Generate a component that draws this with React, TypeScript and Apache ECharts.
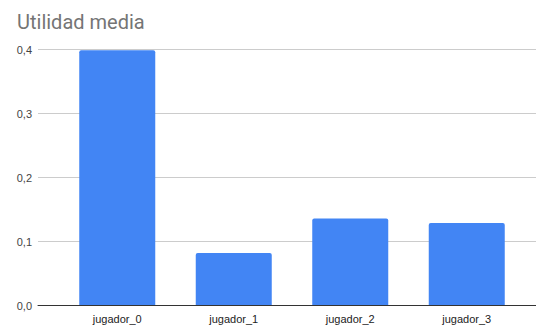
import React, { useEffect, useRef } from "react";
import * as echarts from "echarts";

const categories = ["jugador_0", "jugador_1", "jugador_2", "jugador_3"];
const values = [0.399, 0.082, 0.136, 0.129];
const yTicks = [0, 0.1, 0.2, 0.3, 0.4];
const titleText = "Utilidad media";

export default function App() {
  const ref = useRef<HTMLDivElement>(null);
  useEffect(() => {
    const chart = echarts.init(ref.current!, null, { renderer: "svg" });
    const yMax = yTicks[yTicks.length - 1];
    chart.setOption({
      animation: false,
      title: {
        text: titleText,
        left: 12,
        top: 7,
        textStyle: { fontFamily: "Roboto", fontSize: 20, fontWeight: "normal", color: "#757575" },
      },
      grid: [
        { left: 38, right: 0, top: 49.7, bottom: 21.5 },
        { left: 59, right: 11, top: 49.7, bottom: 21.5 },
      ],
      xAxis: [
        {
          gridIndex: 0,
          type: "value",
          min: 0,
          max: 1,
          axisLine: { show: true, onZero: false, lineStyle: { color: "#333333", width: 1 } },
          axisTick: { show: false },
          axisLabel: { show: false },
          splitLine: { show: false },
          z: 5,
        },
        {
          gridIndex: 1,
          type: "category",
          data: categories,
          axisLine: { show: false },
          axisTick: { show: false },
          axisLabel: { fontFamily: "Liberation Sans, Arial", fontSize: 11, color: "#222222", margin: 8 },
        },
      ],
      yAxis: [
        {
          gridIndex: 0,
          type: "value",
          min: 0,
          max: yMax,
          interval: 0.1,
          axisLine: { show: false },
          axisTick: { show: false },
          axisLabel: {
            fontFamily: "Liberation Sans, Arial",
            fontSize: 11,
            color: "#444444",
            margin: 6,
            formatter: (v: number) => v.toFixed(1).replace(".", ","),
          },
          splitLine: { lineStyle: { color: "#cccccc", width: 1 } },
        },
        {
          gridIndex: 1,
          type: "value",
          min: 0,
          max: yMax,
          show: false,
          splitLine: { show: false },
        },
      ],
      series: [
        {
          type: "bar",
          xAxisIndex: 1,
          yAxisIndex: 1,
          data: values,
          barWidth: 76,
          itemStyle: { color: "#4285f4", borderRadius: [2, 2, 0, 0] },
          z: 3,
        },
      ],
    });
    return () => chart.dispose();
  }, []);
  return (
    <div
      ref={ref}
      style={{ position: "fixed", left: 0, top: 0, width: 536, height: 327, background: "#ffffff" }}
    />
  );
}
